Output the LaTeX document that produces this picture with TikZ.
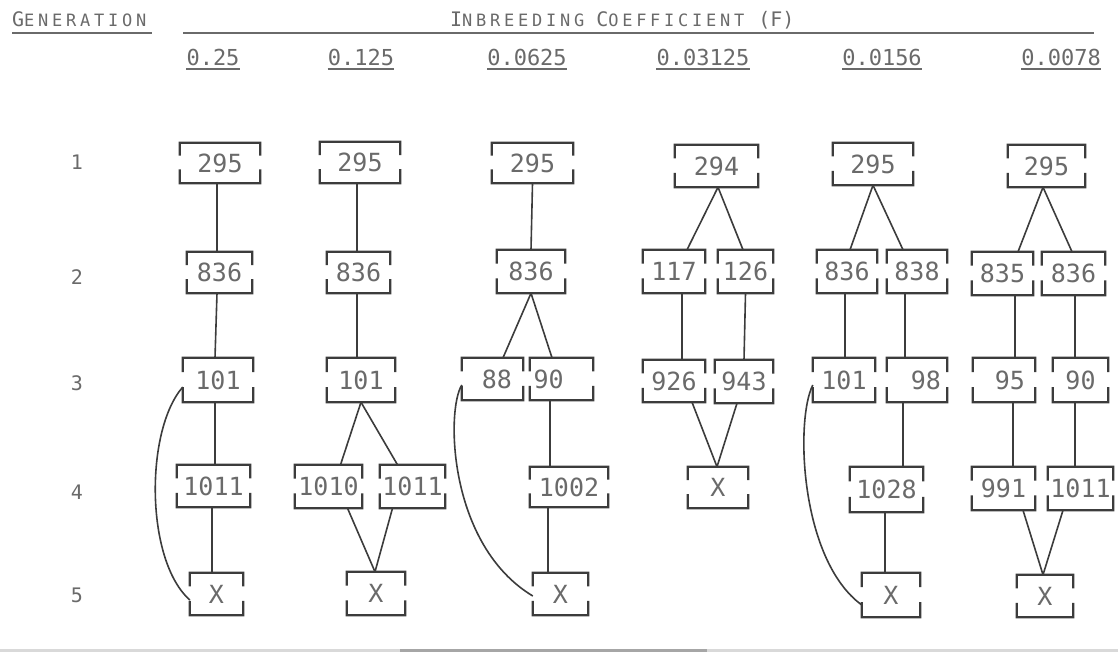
\documentclass[tikz,border=0pt]{standalone}
\usepackage{fontspec}
\usetikzlibrary{calc}
\newfontfamily\tw{DejaVu Sans Mono}
\newfontfamily\twbig{DejaVu Sans Mono}[LetterSpace=10]
\newfontfamily\twsml{DejaVu Sans Mono}[LetterSpace=22]
\definecolor{txtgray}{HTML}{6A6A6A}
\definecolor{lngray}{HTML}{3C3C3C}
\newcommand\scx[2]{{\twbig\fontsize{20}{20}\selectfont #1}{\twsml\fontsize{17}{17}\selectfont #2}}
\tikzset{
  gbox/.style={inner sep=0pt, text=txtgray, font=\tw\fontsize{25}{25}\selectfont},
  bline/.style={draw=lngray, line width=2.2pt},
  conn/.style={draw=lngray, line width=1.6pt},
  hdr/.style={inner sep=0pt, text=txtgray, anchor=base west},
  colhdr/.style={inner sep=0pt, text=txtgray, anchor=base, font=\tw\fontsize{22}{22}\selectfont},
  rowlbl/.style={inner sep=0pt, text=txtgray, font=\tw\fontsize{20}{20}\selectfont},
  ul/.style={draw=txtgray, line width=1.2pt}
}
\newcommand\gb[7]{%
  \node[gbox, minimum width=#4pt, minimum height=#5pt, #6] (#1) at (#2,#3) {#7};
  \draw[bline] ($(#1.north west)!0.32!(#1.south west)$) -- (#1.north west) -- (#1.north east) -- ($(#1.north east)!0.32!(#1.south east)$);
  \draw[bline] ($(#1.south west)!0.34!(#1.north west)$) -- (#1.south west) -- (#1.south east) -- ($(#1.south east)!0.34!(#1.north east)$);
}
\begin{document}
\begin{tikzpicture}[x=1pt, y=-1pt]
\useasboundingbox (0,0) rectangle (1118,662);
\fill[white] (0,0) rectangle (1118,662);
% headers
\node[hdr] (gen) at (12,26) {\scx{G}{ENERATION}};
\coordinate (gl) at (12,33);
\coordinate (gr) at (152,33);
\draw[ul] (gl) -- (gr);
\coordinate (tl) at (183,33);
\coordinate (tr) at (1094,33);
\draw[ul] (tl) -- (tr);
\node[hdr] (ttl) at (450,26) {\scx{I}{NBREEDING}\hspace{12pt}\scx{C}{OEFFICIENT}\hspace{14pt}{\tw\fontsize{20}{20}\selectfont (F)}};
\foreach \nm/\xx/\tt in {k1/213/0.25, k2/361/0.125, k3/527/0.0625, k4/703/0.03125, k5/882/0.0156, k6/1061/0.0078}{
  \node[colhdr] (\nm) at (\xx,65) {\tt};
  \draw[ul] ([yshift=-4pt]\nm.base west) -- ([yshift=-4pt]\nm.base east);
}
% row labels
\node[rowlbl] (r1) at (77,162) {1};
\node[rowlbl] (r2) at (77,277) {2};
\node[rowlbl] (r3) at (77,383) {3};
\node[rowlbl] (r4) at (77,492) {4};
\node[rowlbl] (r5) at (77,595) {5};
% column 1
\gb{a1}{220}{163}{80}{40}{}{295}
\gb{a2}{219.5}{272.5}{65}{41}{}{836}
\gb{a3}{218}{380}{70}{44}{}{101}
\gb{a4}{213.5}{486}{73}{42}{}{1011}
\gb{a5}{216.5}{594}{53}{42}{}{X}
\draw[conn] ([xshift=-3pt]a1.south) -- ([xshift=-2.5pt]a2.north);
\draw[conn] ([xshift=-2.5pt]a2.south) -- ([xshift=-3pt]a3.north);
\draw[conn] ([xshift=-3pt]a3.south) -- ([xshift=1.5pt]a4.north);
\draw[conn] ([xshift=-1.5pt]a4.south) -- ([xshift=-4.5pt]a5.north);
\draw[conn] ([yshift=-7pt]a3.west) .. controls (145,430) and (145,560) .. ([yshift=-6pt]a5.west);
% column 2
\gb{b1}{360}{162.5}{80}{41}{}{295}
\gb{b2}{358.5}{272.5}{63}{41}{}{836}
\gb{b3}{361}{380}{68}{44}{}{101}
\gb{b4a}{328.5}{486.5}{67}{43}{}{1010}
\gb{b4b}{412.5}{486.5}{65}{43}{}{1011}
\gb{b5}{376}{593.5}{58}{43}{}{X}
\draw[conn] ([xshift=-3pt]b1.south) -- ([xshift=-1.5pt]b2.north);
\draw[conn] ([xshift=-1.5pt]b2.south) -- ([xshift=-4pt]b3.north);
\draw[conn] (b3.south) -- ([xshift=12pt]b4a.north);
\draw[conn] (b3.south) -- ([xshift=-15pt]b4b.north);
\draw[conn] ([xshift=19pt]b4a.south) -- ([xshift=-1pt]b5.north);
\draw[conn] ([xshift=-20pt]b4b.south) -- ([xshift=-1pt]b5.north);
% column 3
\gb{c1}{532.5}{163}{81}{40}{}{295}
\gb{c2}{531}{271.5}{68}{43}{}{836}
\gb{c3a}{492.5}{379}{61}{42}{text width=39pt, align=right}{88}
\gb{c3b}{561.5}{379}{63}{42}{text width=56pt, align=left}{90}
\gb{c4}{569}{487}{78}{40}{}{1002}
\gb{c5}{560.5}{594}{55}{42}{}{X}
\draw[conn] (c1.south) -- (c2.north);
\draw[conn] (c2.south) -- ([xshift=10.5pt]c3a.north);
\draw[conn] (c2.south) -- ([xshift=-9.5pt]c3b.north);
\draw[conn] ([xshift=-11.5pt]c3b.south) -- ([xshift=-19pt]c4.north);
\draw[conn] ([xshift=-21pt]c4.south) -- ([xshift=-12.5pt]c5.north);
\draw[conn] ([yshift=-6pt]c3a.west) .. controls (446,410) and (448,545) .. ([yshift=-2pt]c5.west);
% column 4
\gb{d1}{716.5}{166}{83}{42}{}{294}
\gb{d2a}{674}{271.5}{62}{43}{}{117}
\gb{d2b}{745.5}{271.5}{55}{43}{}{126}
\gb{d3a}{674}{381}{62}{42}{}{926}
\gb{d3b}{744}{381.5}{58}{43}{}{943}
\gb{d4}{718}{487.5}{60}{41}{}{X}
\draw[conn] ([xshift=1.5pt]d1.south) -- ([xshift=13pt]d2a.north);
\draw[conn] ([xshift=1.5pt]d1.south) -- ([xshift=-2.5pt]d2b.north);
\draw[conn] ([xshift=8pt]d2a.south) -- ([xshift=8pt]d3a.north);
\draw[conn] (d2b.south) -- (d3b.north);
\draw[conn] ([xshift=18pt]d3a.south) -- ([xshift=-1pt]d4.north);
\draw[conn] ([xshift=-7pt]d3b.south) -- ([xshift=-1pt]d4.north);
% column 5
\gb{e1}{873}{164}{80}{42}{}{295}
\gb{e2a}{847}{271.5}{60}{43}{}{836}
\gb{e2b}{917}{271.5}{60}{43}{}{838}
\gb{e3a}{844}{380}{62}{44}{}{101}
\gb{e3b}{917}{380}{60}{44}{text width=48pt, align=right}{98}
\gb{e4}{886.5}{489.5}{73}{45}{}{1028}
\gb{e5}{891}{595}{58}{44}{}{X}
\draw[conn] (e1.south) -- ([xshift=3pt]e2a.north);
\draw[conn] (e1.south) -- ([xshift=-14pt]e2b.north);
\draw[conn] ([xshift=-2pt]e2a.south) -- ([xshift=1pt]e3a.north);
\draw[conn] ([xshift=-12pt]e2b.south) -- ([xshift=-12pt]e3b.north);
\draw[conn] ([xshift=-14pt]e3b.south) -- ([xshift=16.5pt]e4.north);
\draw[conn] ([xshift=-1.5pt]e4.south) -- ([xshift=-6pt]e5.north);
\draw[conn] ([yshift=-5pt]e3a.west) .. controls (795,420) and (800,560) .. ([yshift=-10pt]e5.west);
% column 6
\gb{f1}{1046.5}{166}{77}{42}{}{295}
\gb{f2a}{1002.5}{273.5}{61}{43}{}{835}
\gb{f2b}{1073.5}{273.5}{63}{43}{}{836}
\gb{f3a}{1004}{380}{62}{44}{text width=42pt, align=right}{95}
\gb{f3b}{1080.5}{380}{55}{44}{}{90}
\gb{f4a}{1003.5}{488.5}{63}{43}{}{991}
\gb{f4b}{1080.5}{488.5}{65}{43}{}{1011}
\gb{f5}{1045}{596}{56}{42}{}{X}
\draw[conn] ([xshift=-3.5pt]f1.south) -- ([xshift=15.5pt]f2a.north);
\draw[conn] ([xshift=-3.5pt]f1.south) -- ([xshift=-1.5pt]f2b.north);
\draw[conn] ([xshift=12.5pt]f2a.south) -- ([xshift=11pt]f3a.north);
\draw[conn] ([xshift=1.5pt]f2b.south) -- ([xshift=-5.5pt]f3b.north);
\draw[conn] ([xshift=9pt]f3a.south) -- ([xshift=9.5pt]f4a.north);
\draw[conn] ([xshift=-5.5pt]f3b.south) -- ([xshift=-5.5pt]f4b.north);
\draw[conn] ([xshift=19.5pt]f4a.south) -- ([xshift=-2pt]f5.north);
\draw[conn] ([xshift=-17.5pt]f4b.south) -- ([xshift=-2pt]f5.north);
% bottom rule
\coordinate (bl) at (0,650);
\coordinate (br) at (1118,650);
\coordinate (bml) at (400,650);
\coordinate (bmr) at (707,650);
\draw[gray!30, line width=3pt] (bl) -- (br);
\draw[gray!70, line width=3pt] (bml) -- (bmr);
\end{tikzpicture}
\end{document}
